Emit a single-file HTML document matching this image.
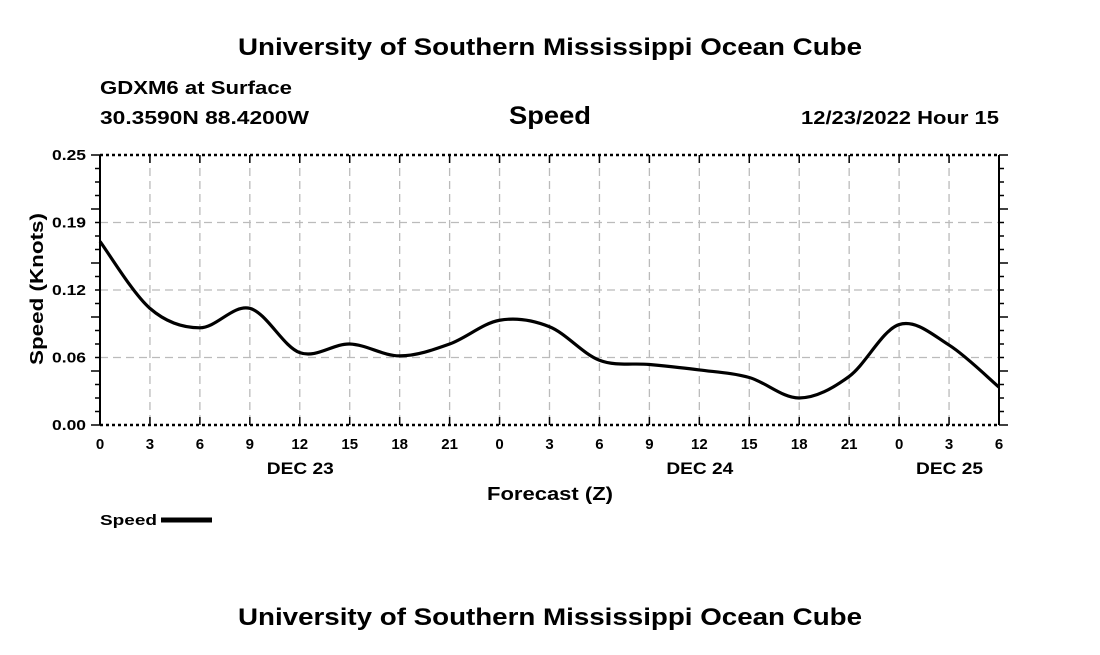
<!DOCTYPE html>
<html><head><meta charset="utf-8"><style>
body{margin:0;background:#fff;}
svg text{font-family:"Liberation Sans",Arial,sans-serif;font-weight:bold;fill:#000;}
</style></head><body>
<svg width="1100" height="650" viewBox="0 0 1100 650">
<text x="238" y="55" font-size="24" textLength="624" lengthAdjust="spacingAndGlyphs">University of Southern Mississippi Ocean Cube</text>
<text x="100" y="94" font-size="18" textLength="192" lengthAdjust="spacingAndGlyphs">GDXM6 at Surface</text>
<text x="100" y="124" font-size="18" textLength="209" lengthAdjust="spacingAndGlyphs">30.3590N  88.4200W</text>
<text x="509" y="124" font-size="25" textLength="82" lengthAdjust="spacingAndGlyphs">Speed</text>
<text x="801" y="124" font-size="18" textLength="198" lengthAdjust="spacingAndGlyphs">12/23/2022 Hour 15</text>
<g id="plot"></g>
<text x="487" y="500" font-size="18" textLength="126" lengthAdjust="spacingAndGlyphs">Forecast (Z)</text>
<text transform="translate(43,289) rotate(-90)" x="-76" y="0" font-size="18" textLength="152" lengthAdjust="spacingAndGlyphs">Speed (Knots)</text>
<text x="100" y="525" font-size="15" textLength="57" lengthAdjust="spacingAndGlyphs">Speed</text>
<line x1="161" y1="520" x2="212" y2="520" stroke="#000" stroke-width="5"/>
<text x="238" y="625" font-size="24" textLength="624" lengthAdjust="spacingAndGlyphs">University of Southern Mississippi Ocean Cube</text>
</svg>
<script>
const hours=[0,3,6,9,12,15,18,21,24,27,30,33,36,39,42,45,48,51,54];
const speed=[0.170,0.108,0.090,0.108,0.067,0.075,0.064,0.075,0.097,0.091,0.060,0.056,0.051,0.044,0.025,0.045,0.093,0.074,0.035];
const xTickLabels=["0","3","6","9","12","15","18","21","0","3","6","9","12","15","18","21","0","3","6"];
const dayLabels=["DEC 23","DEC 24","DEC 25"];
const dayHours=[12,36,51];
const yTicks=[0,0.0625,0.125,0.1875,0.25];
const yTickLabels=["0.00","0.06","0.12","0.19","0.25"];
const X0=100,X1=999,Y0=425,Y1=155,HMAX=54,YMAX=0.25;
const sx=h=>X0+(X1-X0)*h/HMAX;
const sy=v=>Y0-(Y0-Y1)*v/YMAX;
const NS="http://www.w3.org/2000/svg";
const g=document.getElementById('plot');
function mk(t,a){const e=document.createElementNS(NS,t);for(const k in a)e.setAttribute(k,a[k]);g.appendChild(e);return e;}
xTickLabels.forEach((lab,i)=>{const x=sx(i*3);
 if(i>0&&i<xTickLabels.length-1){const l=mk('line',{x1:x,y1:Y1,x2:x,y2:Y0,stroke:'#bbb','stroke-width':1.3,'stroke-dasharray':'8,5'});
 
 }
 const t=mk('line',{x1:x,y1:Y0,x2:x,y2:Y0-8,stroke:'#000','stroke-width':1.5});
 
 
 const t2=mk('line',{x1:x,y1:Y1,x2:x,y2:Y1+8,stroke:'#000','stroke-width':1.5});
 
 
 const tx=mk('text',{x:x,y:Y0+24,'text-anchor':'middle','font-size':15});tx.textContent=lab;
 
 
});
dayLabels.forEach((d,i)=>{const tx=mk('text',{x:sx(dayHours[i])-33,y:Y0+49,'font-size':17,textLength:67,lengthAdjust:'spacingAndGlyphs'});tx.textContent=d;
 
 });
yTicks.forEach((v,i)=>{const y=sy(v);
 if(i>0&&i<yTicks.length-1){const l=mk('line',{x1:X0,y1:y,x2:X1,y2:y,stroke:'#bbb','stroke-width':1.3,'stroke-dasharray':'8,5'});
 
 }
 const tx=mk('text',{x:52,y:y+5,'font-size':15,textLength:34,lengthAdjust:'spacingAndGlyphs'});tx.textContent=yTickLabels[i];
 
 
});
for(let k=0;k<=20;k++){const y=Y0-(Y0-Y1)*k/20;const w=(k%4==0)?9:5;
 mk('line',{x1:X0-w,y1:y,x2:X0,y2:y,stroke:'#000','stroke-width':1.5});
 mk('line',{x1:X1,y1:y,x2:X1+w,y2:y,stroke:'#000','stroke-width':1.5});}
mk('line',{x1:X0,y1:Y1,x2:X0,y2:Y0,stroke:'#000','stroke-width':2});
mk('line',{x1:X1,y1:Y1,x2:X1,y2:Y0,stroke:'#000','stroke-width':2});
mk('line',{x1:X0,y1:Y1,x2:X1,y2:Y1,stroke:'#000','stroke-width':2.5,'stroke-dasharray':'3,3'});
mk('line',{x1:X0,y1:Y0,x2:X1,y2:Y0,stroke:'#000','stroke-width':2.5,'stroke-dasharray':'3,3'});
const pts=hours.map((h,i)=>[sx(h),sy(speed[i])]);
let d='M'+pts[0][0]+','+pts[0][1];
for(let i=0;i<pts.length-1;i++){const p0=pts[i-1]||pts[i],p1=pts[i],p2=pts[i+1],p3=pts[i+2]||p2;
 const c1=[p1[0]+(p2[0]-p0[0])/6,p1[1]+(p2[1]-p0[1])/6],c2=[p2[0]-(p3[0]-p1[0])/6,p2[1]-(p3[1]-p1[1])/6];
 d+=' C'+c1+' '+c2+' '+p2;}
const path=mk('path',{d:d,fill:'none',stroke:'#000','stroke-width':3.2});


</script>
</body></html>
